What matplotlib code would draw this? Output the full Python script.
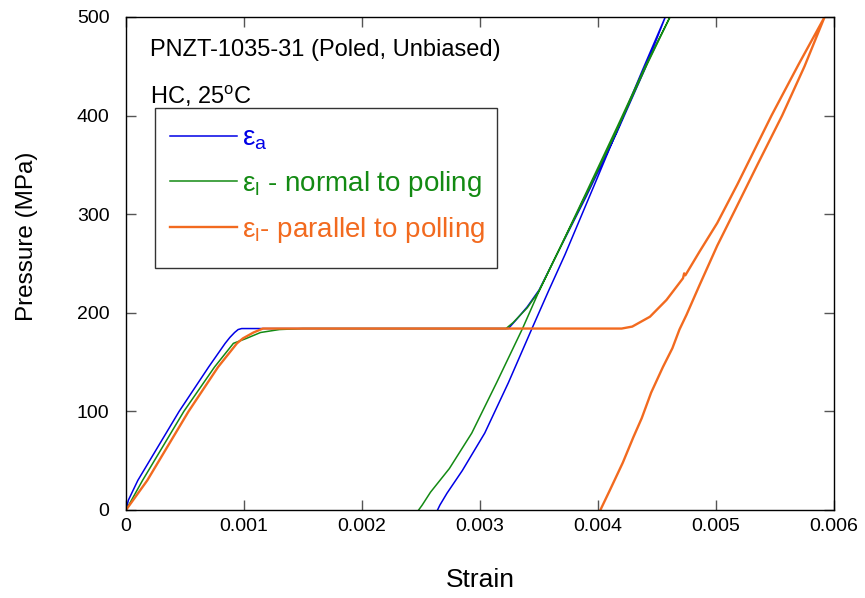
import matplotlib
matplotlib.use("Agg")
import matplotlib.pyplot as plt
from matplotlib.patches import Rectangle

plt.rcParams['font.family'] = ['Liberation Sans', 'DejaVu Sans']
plt.rcParams['mathtext.fontset'] = 'custom'
plt.rcParams['mathtext.rm'] = 'Liberation Sans'
plt.rcParams['mathtext.it'] = 'Liberation Sans:italic'

# axial strain (loading then unloading), pressure in MPa
ea_strain = [0, 0.00002, 0.0001, 0.00045, 0.00070, 0.00084, 0.00088, 0.00092, 0.00095, 0.00098,
             0.00324, 0.00330, 0.00340, 0.00350, 0.00365, 0.00390, 0.00416, 0.00440, 0.00457,
             0.00438, 0.00418, 0.00397, 0.00372, 0.00358, 0.00344, 0.00324, 0.00304,
             0.00285, 0.00272, 0.00266, 0.00264]
ea_press = [0, 10, 30, 100, 145, 169, 175, 180, 183, 184,
            184, 192, 206, 223, 259, 318, 383, 448, 500,
            447, 390, 330, 259, 222, 184, 129, 78,
            40, 17, 5, 0]

# lateral strain normal to poling
en_strain = [0, 0.00014, 0.00049, 0.00075, 0.00091, 0.00102, 0.00114, 0.00130, 0.00150,
             0.00322, 0.00328, 0.00340, 0.00350, 0.00365, 0.00390, 0.00414, 0.00440, 0.00461,
             0.00440, 0.00416, 0.00390, 0.00367, 0.00350, 0.00336, 0.00314, 0.00293,
             0.00274, 0.00258, 0.00251, 0.00248]
en_press = [0, 30, 100, 145, 169, 174, 180, 183, 184,
            184, 190, 205, 222, 259, 320, 380, 448, 500,
            450, 388, 322, 264, 222, 184, 129, 78,
            42, 18, 5, 0]

# lateral strain parallel to poling
ep_strain = [0, 0.00018, 0.00053, 0.00078, 0.00094, 0.00099, 0.00108, 0.00116,
             0.00420, 0.00429, 0.00444, 0.00458, 0.00472, 0.00473, 0.00474, 0.00486,
             0.00501, 0.00518, 0.00547, 0.00570, 0.00592,
             0.00575, 0.00556, 0.00535, 0.00516, 0.00501, 0.00486, 0.00475, 0.00469,
             0.00463, 0.00455, 0.00445, 0.00437, 0.00430, 0.00421, 0.00410, 0.00402]
ep_press = [0, 30, 100, 145, 169, 174, 180, 184,
            184, 186, 196, 213, 235, 240, 238, 262,
            291, 330, 400, 452, 500,
            450, 400, 350, 304, 268, 228, 198, 183,
            164, 145, 119, 93, 74, 48, 20, 0]

xticks = [0, 0.001, 0.002, 0.003, 0.004, 0.005, 0.006]
xtick_labels = ['0', '0.001', '0.002', '0.003', '0.004', '0.005', '0.006']
yticks = [0, 100, 200, 300, 400, 500]

blue = '#0000e6'
green = '#138a13'
orange = '#f26a1f'

fig = plt.figure(figsize=(8.65, 5.98), dpi=100)
ax = fig.add_axes([0.1457, 0.1472, 0.8185, 0.8244])

l1, = ax.plot(ea_strain, ea_press, color=blue, lw=1.1)
l2, = ax.plot(en_strain, en_press, color=green, lw=1.1)
l3, = ax.plot(ep_strain, ep_press, color=orange, lw=1.7)

ax.set_xlim(0, 0.006)
ax.set_ylim(0, 500)
ax.set_xticks(xticks)
ax.set_xticklabels(xtick_labels)
ax.set_yticks(yticks)
ax.tick_params(axis='both', direction='in', length=7, width=1, color='#555555',
               top=True, right=True, labelsize=14)
ax.tick_params(axis='x', pad=6)
ax.tick_params(axis='y', pad=12)
for s in ax.spines.values():
    s.set_linewidth(1.0)

ax.set_xlabel('Strain', fontsize=19)
ax.set_ylabel('Pressure (MPa)', fontsize=17.5)
ax.xaxis.set_label_coords(0.5, -0.118)
ax.yaxis.set_label_coords(-0.125, 0.556)

ax.text(0.034, 0.921, 'PNZT-1035-31 (Poled, Unbiased)', transform=ax.transAxes,
        fontsize=17, va='baseline')
ax.text(0.034, 0.8235, r'HC, 25$^{\rm o}$C', transform=ax.transAxes,
        fontsize=17, va='baseline')

# legend box
ax.add_patch(Rectangle((0.041, 0.491), 0.483, 0.3245, transform=ax.transAxes,
                       fill=False, edgecolor='#333333', lw=1.0, zorder=3))
leg = ax.legend([l1, l2, l3],
                [r'ε$_{\rm a}$', r'ε$_{\rm l}$ - normal to poling', r'ε$_{\rm l}$- parallel to polling'],
                loc='upper left', bbox_to_anchor=(0.062, 0.779), frameon=False,
                fontsize=20, handlelength=2.4, handletextpad=0.2,
                labelspacing=0.58, borderpad=0, borderaxespad=0)
for t, c in zip(leg.get_texts(), [blue, green, orange]):
    t.set_color(c)

fig.savefig('out.png', dpi=100)
